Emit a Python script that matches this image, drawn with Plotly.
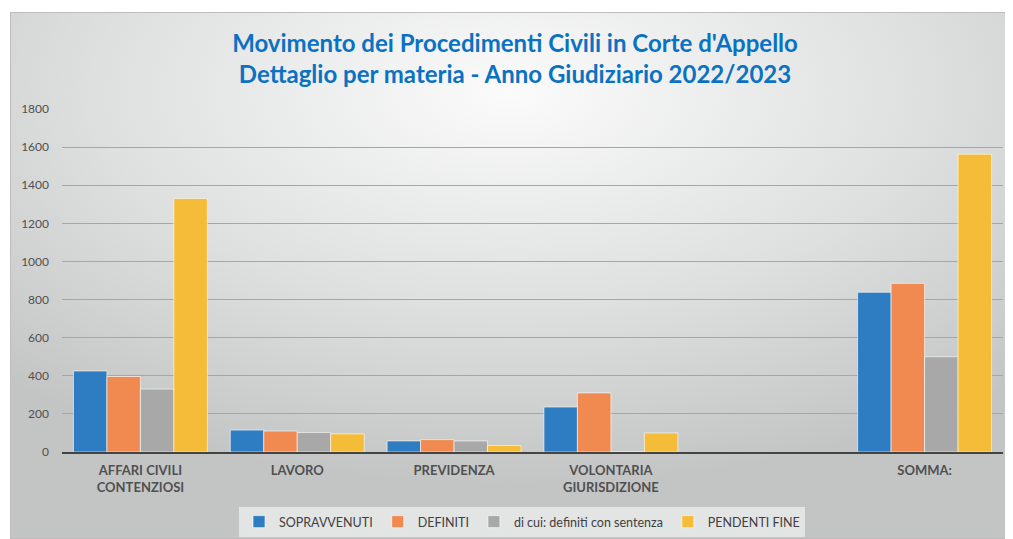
import base64
import plotly.graph_objects as go

categories = ["AFFARI CIVILI<br>CONTENZIOSI", "LAVORO", "PREVIDENZA",
              "VOLONTARIA<br>GIURISDIZIONE", " ", "SOMMA:"]
sopravvenuti = [425, 115, 58, 236, None, 838]
definiti = [396, 110, 65, 310, None, 885]
definiti_sentenza = [330, 102, 58, 0, None, 500]
pendenti_fine = [1330, 95, 34, 100, None, 1563]

series = [
    ("SOPRAVVENUTI", sopravvenuti, "#2e7dc2"),
    ("DEFINITI", definiti, "#f08a50"),
    ("di cui: definiti con sentenza", definiti_sentenza, "#a8a8a8"),
    ("PENDENTI FINE", pendenti_fine, "#f4bc38"),
]

# page body has an 8px margin; figure is sized so it ends at the window edge
W, H = 1005, 531
L, R, T, B = 54, 10, 101, 87
PW, PH = W - L - R, H - T - B

svg = (
    "<svg xmlns='http://www.w3.org/2000/svg' width='1003' height='527'>"
    "<defs><radialGradient id='g' cx='50%' cy='15%' r='75%'>"
    "<stop offset='0' stop-color='#fbfbfb'/>"
    "<stop offset='0.55' stop-color='#dedfdf'/>"
    "<stop offset='1' stop-color='#c3c5c5'/>"
    "</radialGradient></defs>"
    "<rect x='0.5' y='0.5' width='1002' height='526' fill='url(#g)' stroke='#bdbdbd'/>"
    "</svg>"
)
svg_uri = "data:image/svg+xml;base64," + base64.b64encode(svg.encode()).decode()

fig = go.Figure()
for name, vals, color in series:
    fig.add_trace(go.Bar(
        x=categories, y=vals, name=name,
        marker=dict(color=color, line=dict(color="rgba(255,255,255,0.6)", width=1)),
    ))

fig.update_layout(
    width=W, height=H,
    margin=dict(l=L, r=R, t=T, b=B, autoexpand=False),
    paper_bgcolor="white",
    plot_bgcolor="rgba(0,0,0,0)",
    barmode="group",
    bargap=0.146,
    bargroupgap=0,
    font=dict(family="Lato, 'Open Sans', sans-serif", color="#404040"),
    title=dict(
        text="<b>Movimento dei Procedimenti Civili in Corte d'Appello<br>"
             "Dettaglio per materia - Anno Giudiziario 2022/2023</b>",
        x=(515 - 8) / W, xanchor="center", xref="container",
        y=1 - 44 / H, yanchor="middle", yref="container",
        font=dict(family="Lato, sans-serif", size=24, color="#0a72c2"),
    ),
    xaxis=dict(
        type="category",
        tickfont=dict(size=13, color="#505050", family="Lato, sans-serif", weight="bold"),
        showgrid=False,
        showline=True, linecolor="#444444", linewidth=2,
        ticks="",
        tickangle=0,
        ticklabelstandoff=5,
    ),
    yaxis=dict(
        range=[0, 1800],
        dtick=200,
        tickfont=dict(size=12, color="#505050"),
        gridcolor="#a6a6a6", gridwidth=1,
        zeroline=False,
        showline=False,
        ticks="",
        ticklabelstandoff=12,
    ),
    legend=dict(
        orientation="h",
        x=(522 - 8 - L) / PW, xanchor="center",
        y=(T + PH - (522 - 8)) / PH, yanchor="middle",
        bgcolor="#e3e4e4",
        font=dict(size=12.5, color="#404040"),
        itemwidth=30,
        traceorder="normal",
    ),
    images=[dict(
        source=svg_uri, xref="paper", yref="paper",
        x=(2 - L) / PW, y=(T + PH - 4) / PH,
        sizex=1003 / PW, sizey=527 / PH,
        xanchor="left", yanchor="top",
        sizing="stretch", layer="below",
    )],
    showlegend=True,
)

fig.write_html("out.html")
